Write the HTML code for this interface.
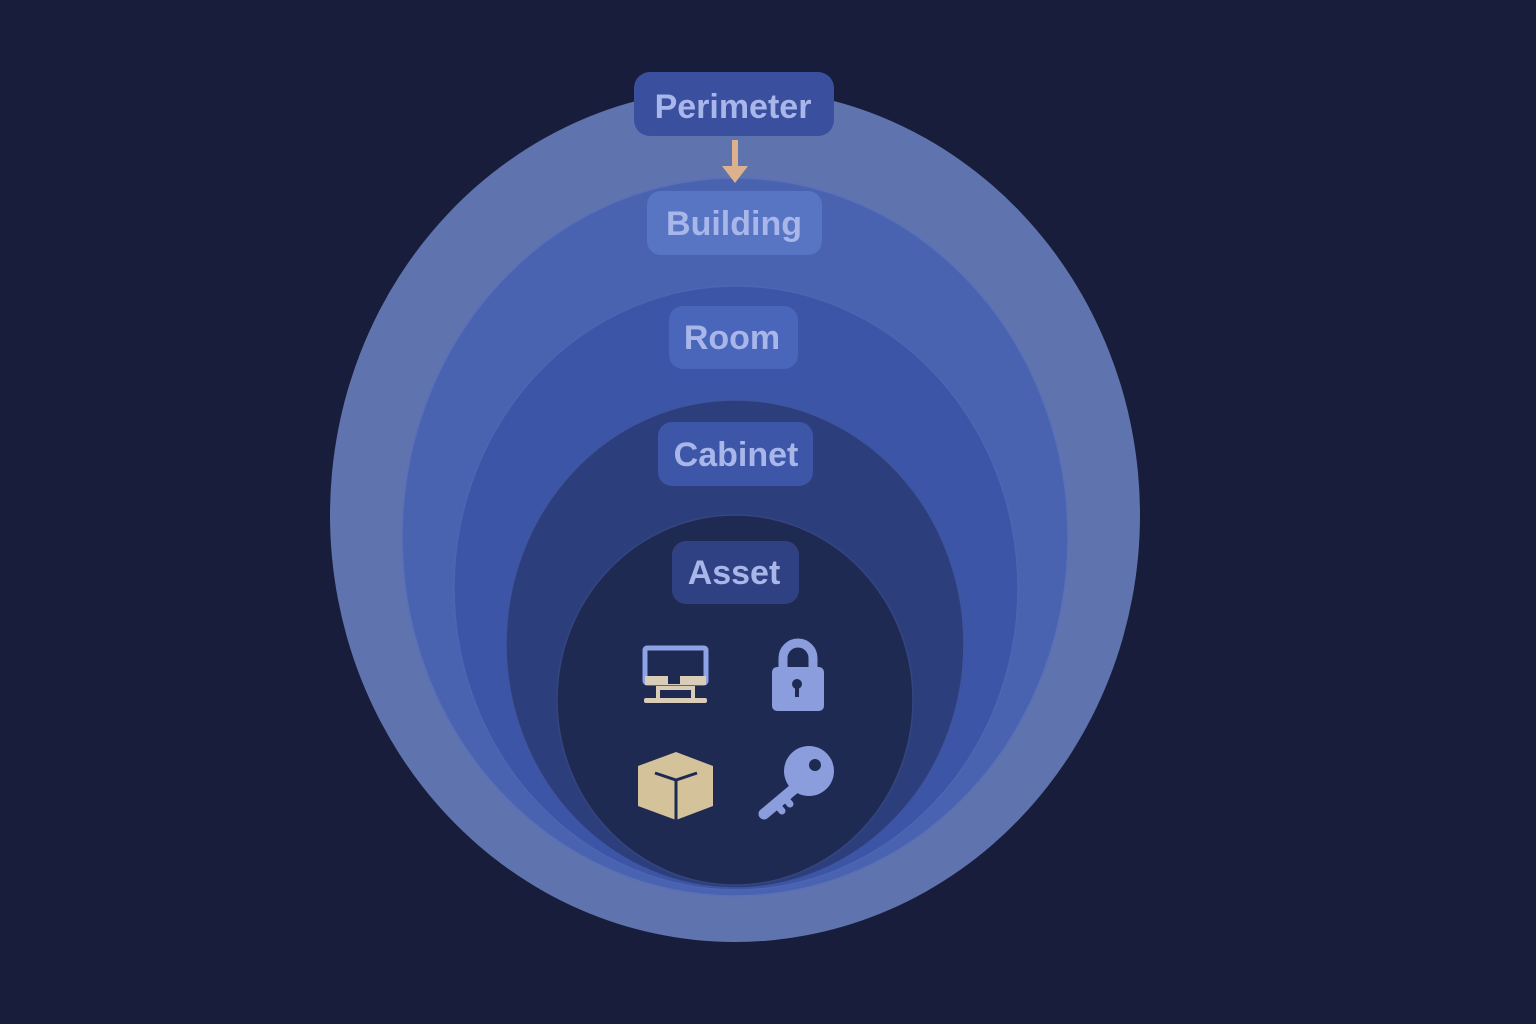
<!DOCTYPE html>
<html><head><meta charset="utf-8"><style>
html,body{margin:0;padding:0;background:#171d3b;}
svg{display:block}
text{font-family:"Liberation Sans",sans-serif;font-weight:bold;font-size:34px;fill:#a8b6ea;text-anchor:middle}
</style></head><body>
<svg width="1536" height="1024" viewBox="0 0 1536 1024" xmlns="http://www.w3.org/2000/svg">
<rect width="1536" height="1024" fill="#171d3b"/>
<ellipse cx="735" cy="515" rx="405" ry="427" fill="#5f73ae"/>
<ellipse cx="735" cy="537" rx="333" ry="359" fill="#4a63b0" stroke="#5a70b8" stroke-width="1.5"/>
<ellipse cx="736" cy="588" rx="282" ry="302" fill="#3c55a6" stroke="#4d66b3" stroke-width="1.5"/>
<ellipse cx="735" cy="644" rx="229" ry="244" fill="#2d3e7d" stroke="#3f55a0" stroke-width="1.5"/>
<ellipse cx="735" cy="700" rx="178" ry="185" fill="#1f2a52" stroke="#34457f" stroke-width="1.5"/>

<rect x="634" y="72" width="200" height="64" rx="16" fill="#3a4f9e"/>
<text x="733" y="118">Perimeter</text>
<rect x="732" y="140" width="6" height="28" fill="#dcb28e"/>
<polygon points="722,166 748,166 735,183" fill="#dcb28e"/>

<rect x="647" y="191" width="175" height="64" rx="14" fill="#5875c4"/>
<text x="734" y="235">Building</text>
<rect x="669" y="306" width="129" height="63" rx="14" fill="#4a66bb"/>
<text x="732" y="349">Room</text>
<rect x="658" y="422" width="155" height="64" rx="14" fill="#3e56a8"/>
<text x="736" y="466">Cabinet</text>
<rect x="672" y="541" width="127" height="63" rx="14" fill="#2f4182"/>
<text x="734" y="584">Asset</text>

<!-- monitor -->
<rect x="645" y="648" width="61" height="35" rx="2" fill="none" stroke="#8ea3e6" stroke-width="5"/>
<rect x="645" y="676" width="61" height="9" fill="#d9cdb8"/>
<rect x="668" y="676" width="12" height="8" fill="#1f2a52"/>
<rect x="658" y="688" width="35" height="12" fill="none" stroke="#d9cdb8" stroke-width="4"/>
<rect x="644" y="698" width="63" height="5" rx="2" fill="#d9cdb8"/>
<!-- lock -->
<path d="M783,670 v-12 a15,15 0 0 1 30,0 v12" fill="none" stroke="#8c9ddd" stroke-width="9"/>
<rect x="772" y="667" width="52" height="44" rx="5" fill="#8c9ddd"/>
<circle cx="797" cy="684" r="5" fill="#1f2a52"/>
<rect x="795" y="685" width="4" height="12" fill="#1f2a52"/>
<!-- box -->
<polygon points="676,752 713,766 713,806 676,820 638,806 638,766" fill="#d4c29a"/>
<path d="M655,773 L676,780 L697,773 M676,780 V820" stroke="#1f2a52" stroke-width="3" fill="none"/>
<!-- key -->
<circle cx="809" cy="771" r="25" fill="#8c9ddd"/>
<circle cx="815" cy="765" r="6" fill="#1f2a52"/>
<path d="M795,788 L764,814" stroke="#8c9ddd" stroke-width="11" stroke-linecap="round"/>
<path d="M776,804 l6,7 M784,797 l6,7" stroke="#8c9ddd" stroke-width="7" stroke-linecap="round"/>
</svg>
</body></html>
